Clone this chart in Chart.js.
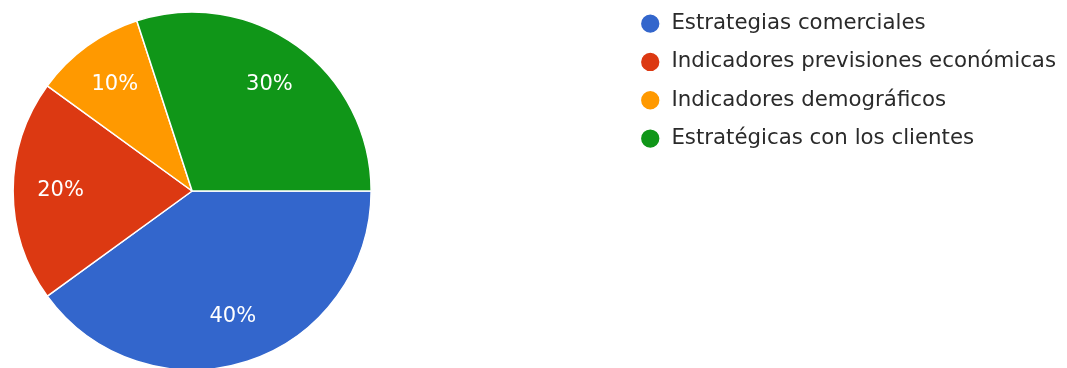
<!DOCTYPE html>
<html>
<head>
<meta charset="utf-8">
<script src="https://cdn.jsdelivr.net/npm/chart.js@4"></script>
<style>
  html, body { margin: 0; background: #fff; overflow: hidden; }
  .wrap { position: relative; top: -4px; width: 1067px; height: 372px; }
</style>
</head>
<body>
<div class="wrap"><canvas id="pie"></canvas></div>
<script>
const categories = [
  'Estrategias comerciales',
  'Indicadores previsiones económicas',
  'Indicadores demográficos',
  'Estratégicas con los clientes',
]
const shares = [40, 20, 10, 30]
const colors = ['#3366cc', '#dc3912', '#ff9900', '#109618']

const FONT = 'DejaVu Sans'

// empty layout boxes: push the pie down a bit and keep a gap before the legend
const spacers = {
  id: 'spacers',
  beforeInit(chart) {
    const box = (position, size) => ({
      position,
      weight: 0,
      fullSize: false,
      options: { display: false },
      isHorizontal() {
        return position === 'top' || position === 'bottom'
      },
      update(w, h) {
        this.width = this.isHorizontal() ? w : size
        this.height = this.isHorizontal() ? size : h
      },
      draw() {},
    })
    Chart.layouts.addBox(chart, box('top', 18))
    Chart.layouts.addBox(chart, box('right', 238.5))
  },
}

// percentage written inside each slice
const sliceLabels = {
  id: 'sliceLabels',
  afterDatasetsDraw(chart) {
    const { ctx } = chart
    const total = shares.reduce((a, b) => a + b, 0)
    ctx.save()
    ctx.font = `21px "${FONT}"`
    ctx.fillStyle = '#fff'
    ctx.textAlign = 'center'
    ctx.textBaseline = 'middle'
    chart.getDatasetMeta(0).data.forEach((arc, i) => {
      const { x, y, startAngle, endAngle, outerRadius } = arc.getProps(
        ['x', 'y', 'startAngle', 'endAngle', 'outerRadius'],
        true
      )
      const mid = (startAngle + endAngle) / 2
      const r = outerRadius * 0.735
      const pct = Math.round((shares[i] / total) * 100) + '%'
      ctx.fillText(pct, x + Math.cos(mid) * r, y + Math.sin(mid) * r)
    })
    ctx.restore()
  },
}

new Chart(document.getElementById('pie'), {
  type: 'pie',
  data: {
    labels: categories,
    datasets: [
      {
        data: shares,
        backgroundColor: colors,
        borderColor: '#fff',
        borderWidth: 1.5,
      },
    ],
  },
  options: {
    responsive: true,
    maintainAspectRatio: false,
    animation: false,
    rotation: 90,
    radius: 179,
    layout: { padding: { right: 1 } },
    plugins: {
      legend: {
        position: 'right',
        align: 'start',
        fullSize: true,
        labels: {
          usePointStyle: true,
          pointStyle: 'circle',
          boxWidth: 21,
          boxHeight: 14,
          padding: 17,
          color: '#2a2a2a',
          font: { family: FONT, size: 21.3 },
        },
      },
      tooltip: { enabled: false },
    },
  },
  plugins: [spacers, sliceLabels],
})
</script>
</body>
</html>
